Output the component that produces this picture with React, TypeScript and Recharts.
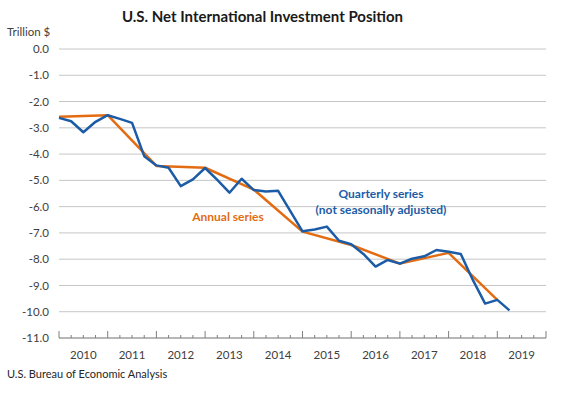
import { LineChart, Line, XAxis, YAxis, CartesianGrid } from "recharts";

// quarter-end positions: index 0 = 2009Q4 (start of the 2010 band on the axis)
const quarters = [
  "2009Q4",
  "2010Q1", "2010Q2", "2010Q3", "2010Q4",
  "2011Q1", "2011Q2", "2011Q3", "2011Q4",
  "2012Q1", "2012Q2", "2012Q3", "2012Q4",
  "2013Q1", "2013Q2", "2013Q3", "2013Q4",
  "2014Q1", "2014Q2", "2014Q3", "2014Q4",
  "2015Q1", "2015Q2", "2015Q3", "2015Q4",
  "2016Q1", "2016Q2", "2016Q3", "2016Q4",
  "2017Q1", "2017Q2", "2017Q3", "2017Q4",
  "2018Q1", "2018Q2", "2018Q3", "2018Q4",
  "2019Q1",
];
const quarterlyValues = [
  -2.62,
  -2.75, -3.17, -2.77, -2.52,
  -2.66, -2.81, -4.08, -4.43,
  -4.52, -5.22, -4.96, -4.53,
  -4.98, -5.47, -4.94, -5.37,
  -5.42, -5.4, -6.17, -6.94,
  -6.87, -6.76, -7.3, -7.43,
  -7.8, -8.28, -8.03, -8.17,
  -7.98, -7.89, -7.65, -7.72,
  -7.8, -8.8, -9.69, -9.55,
  -9.95,
];

const annualYears = [2009, 2010, 2011, 2012, 2013, 2014, 2015, 2016, 2017, 2018];
const annualValues = [-2.58, -2.52, -4.45, -4.52, -5.35, -6.95, -7.46, -8.17, -7.76, -9.55];

const yearLabels = ["2010", "2011", "2012", "2013", "2014", "2015", "2016", "2017", "2018", "2019"];
const yTicks = [0, -1, -2, -3, -4, -5, -6, -7, -8, -9, -10, -11];

const quarterlyData = quarters.map((q, i) => ({ x: i, q, v: quarterlyValues[i] }));
const annualData = annualYears.map((yr, i) => ({ x: (yr - 2009) * 4, v: annualValues[i] }));
const xTicks = Array.from({ length: yearLabels.length * 4 + 1 }, (_, i) => i);

const FONT = "Lato, 'Open Sans', sans-serif";
const BLUE = "#1c5ca6";
const ORANGE = "#e36c13";

function QuarterTick(props: any) {
  const { x, y, payload } = props;
  const v = payload.value as number;
  const major = v % 4 === 0;
  return (
    <g>
      <line x1={x} x2={x} y1={y} y2={y - (major ? 7 : 3)} stroke="#7f7f7f" strokeWidth={1} />
      {v % 4 === 2 && (
        <text x={x} y={y + 16} textAnchor="middle" dominantBaseline="central" fontSize={11.5} fill="#404040" fontFamily={FONT}>
          {yearLabels[(v - 2) / 4]}
        </text>
      )}
    </g>
  );
}

export default function App() {
  return (
    <div style={{ position: "absolute", left: 0, top: 0, width: 565, height: 399, background: "#fff", fontFamily: FONT }}>
      <div style={{ position: "absolute", left: 0, width: 525, top: 6, lineHeight: "20px", textAlign: "center", fontSize: 15, fontWeight: 700, color: "#1a1a1a" }}>
        U.S. Net International Investment Position
      </div>
      <div style={{ position: "absolute", left: 7, top: 24, lineHeight: "15px", fontSize: 11.5, color: "#404040" }}>
        Trillion $
      </div>

      <LineChart width={565} height={399} data={quarterlyData} margin={{ top: 49, right: 19, left: 0, bottom: 0 }}>
        <CartesianGrid vertical={false} stroke="#c6c6c6" strokeWidth={1} />
        <XAxis
          dataKey="x"
          type="number"
          domain={[0, 40]}
          ticks={xTicks}
          interval={0}
          height={61}
          tickSize={0}
          tickMargin={0}
          tickLine={false}
          axisLine={{ stroke: "#8a8a8a", strokeWidth: 1 }}
          tick={<QuarterTick />}
        />
        <YAxis
          type="number"
          domain={[-11, 0]}
          ticks={yTicks}
          interval={0}
          width={59}
          axisLine={false}
          tickLine={false}
          tickSize={0}
          tickMargin={10}
          tickFormatter={(v: number) => v.toFixed(1)}
          tick={{ fontSize: 11.5, fill: "#404040", fontFamily: FONT }}
        />
        <Line data={annualData} dataKey="v" stroke={ORANGE} strokeWidth={2.5} dot={false} isAnimationActive={false} strokeLinejoin="round" />
        <Line data={quarterlyData} dataKey="v" stroke={BLUE} strokeWidth={2.5} dot={false} isAnimationActive={false} strokeLinejoin="round" />
      </LineChart>

      <div style={{ position: "absolute", left: 300, width: 162, top: 186, lineHeight: "15.5px", textAlign: "center", fontSize: 12, fontWeight: 700, color: BLUE }}>
        Quarterly series
        <br />
        (not seasonally adjusted)
      </div>
      <div style={{ position: "absolute", left: 178, width: 100, top: 209, lineHeight: "16px", textAlign: "center", fontSize: 12, fontWeight: 700, color: ORANGE }}>
        Annual series
      </div>

      <div style={{ position: "absolute", left: 7, top: 366, lineHeight: "16px", fontSize: 11, color: "#262626" }}>
        U.S. Bureau of Economic Analysis
      </div>
    </div>
  );
}
